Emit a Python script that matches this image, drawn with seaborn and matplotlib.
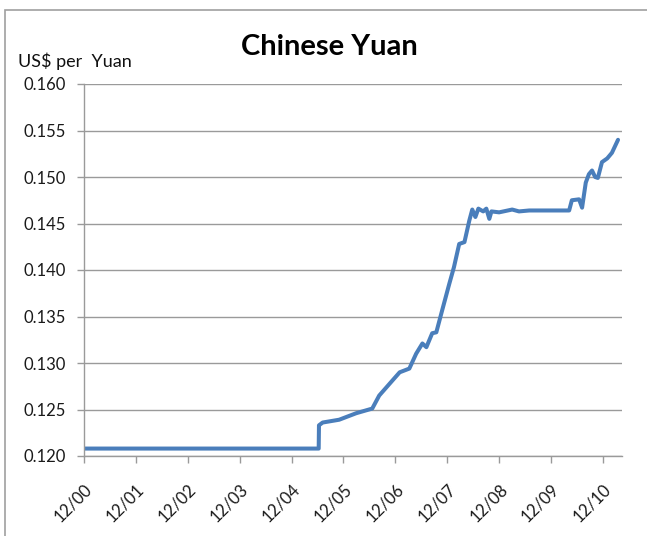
import matplotlib
matplotlib.use("Agg")
import matplotlib.pyplot as plt
from matplotlib.patches import Rectangle
import pandas as pd
import seaborn as sns

dates = [
    "2000-12-01", "2005-06-10", "2005-06-12", "2005-07-08", "2005-11-01",
    "2006-03-01", "2006-06-22", "2006-08-10", "2006-11-10", "2007-01-01",
    "2007-03-10", "2007-04-27", "2007-06-10", "2007-07-08", "2007-08-18",
    "2007-09-16", "2007-10-26", "2007-12-16", "2008-01-18", "2008-02-24",
    "2008-04-01", "2008-05-05", "2008-05-26", "2008-06-17", "2008-07-08",
    "2008-08-11", "2008-09-02", "2008-09-23", "2008-10-08", "2008-12-01",
    "2009-03-03", "2009-04-20", "2009-07-01", "2009-11-17", "2010-04-08",
    "2010-04-27", "2010-06-17", "2010-07-08", "2010-08-03", "2010-08-25",
    "2010-09-16", "2010-10-08", "2010-10-27", "2010-11-25", "2011-01-01",
    "2011-02-03", "2011-03-18",
]
rate = [
    0.1208, 0.1208, 0.1233, 0.1236, 0.1239,
    0.1246, 0.1251, 0.1265, 0.1281, 0.1290,
    0.1294, 0.1310, 0.1321, 0.1317, 0.1332,
    0.1333, 0.1356, 0.1385, 0.1403, 0.1428,
    0.1430, 0.1453, 0.1465, 0.1457, 0.1466,
    0.1463, 0.1466, 0.1455, 0.1463, 0.1462,
    0.1465, 0.1463, 0.1464, 0.1464, 0.1464,
    0.1475, 0.1476, 0.1467, 0.1494, 0.1503,
    0.1507, 0.1500, 0.1499, 0.1516, 0.1520,
    0.1526, 0.1540,
]
tick_dates = [f"{y}-12-01" for y in range(2000, 2011)]
tick_labels = ["12/00", "12/01", "12/02", "12/03", "12/04", "12/05",
               "12/06", "12/07", "12/08", "12/09", "12/10"]
y_ticks = [0.120, 0.125, 0.130, 0.135, 0.140, 0.145, 0.150, 0.155, 0.160]

df = pd.DataFrame({"date": pd.to_datetime(dates), "rate": rate})

sns.set_style("white")
plt.rcParams["font.family"] = ["Lato", "DejaVu Sans"]

fig = plt.figure(figsize=(6.47, 5.36), dpi=100)
ax = fig.add_axes([84 / 647, 1 - 456 / 536, (622 - 84) / 647, (456 - 84) / 536])

sns.lineplot(data=df, x="date", y="rate", ax=ax, color="#4A7EBB", linewidth=2.9)

ax.set_xlim(pd.Timestamp("2000-12-01"), pd.Timestamp("2011-04-15"))
ax.set_ylim(0.120, 0.160)
ax.set_yticks(y_ticks)
ax.set_yticklabels([f"{v:.3f}" for v in y_ticks], fontsize=12, color="#1a1a1a")
ax.set_xticks(pd.to_datetime(tick_dates))
ax.set_xticklabels(tick_labels, rotation=45, ha="right", rotation_mode="anchor",
                   fontsize=12, color="#1a1a1a")
ax.set_xlabel("")
ax.set_ylabel("")

ax.grid(axis="y", color="#9a9a9a", linewidth=1.0)
ax.grid(axis="x", visible=False)
ax.set_axisbelow(True)
for s in ["top", "right"]:
    ax.spines[s].set_visible(False)
for s in ["left", "bottom"]:
    ax.spines[s].set_color("#9a9a9a")
    ax.spines[s].set_linewidth(1.0)
ax.tick_params(axis="both", which="major", direction="out", length=5,
               color="#9a9a9a", width=1.0, left=True, bottom=True)
ax.tick_params(axis="y", pad=8)
ax.tick_params(axis="x", pad=13)

fig.text(329 / 647, 1 - 55 / 536, "Chinese Yuan", ha="center", va="baseline",
         fontsize=21, fontweight="bold", color="black")
fig.text(18 / 647, 1 - 67 / 536, "US$ per  Yuan", ha="left", va="baseline",
         fontsize=13, color="#111111")

fig.patches.append(Rectangle((5 / 647, -0.1), 1.2, 1.1 - 10 / 536,
                             transform=fig.transFigure, fill=False,
                             edgecolor="#a0a0a0", linewidth=1.2))

fig.savefig("out.png", dpi=100)
